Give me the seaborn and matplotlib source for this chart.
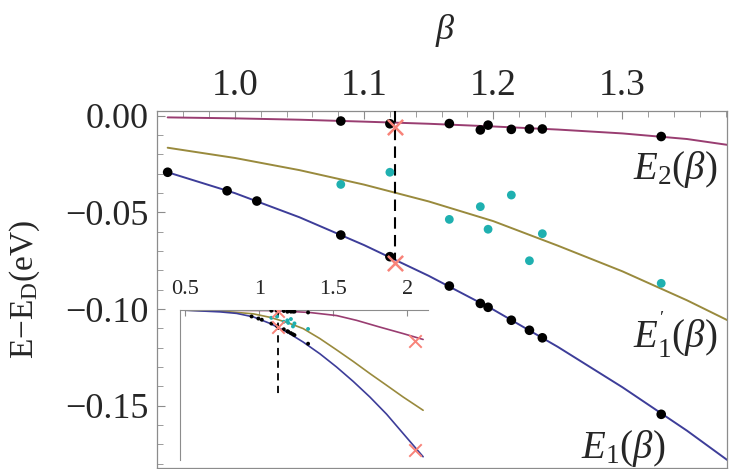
import matplotlib
matplotlib.use("Agg")
import matplotlib.pyplot as plt
import seaborn as sns

# computed points (beta, E - E_D in eV)
beta_e1 = [0.948, 0.994, 1.017, 1.082, 1.120, 1.166, 1.190, 1.196, 1.214, 1.228, 1.238, 1.330]
e1_pts = [-0.0292, -0.0388, -0.0441, -0.0617, -0.0729, -0.0881, -0.0971, -0.0991, -0.1058, -0.1110, -0.1149, -0.1545]

beta_e2 = [1.082, 1.120, 1.166, 1.190, 1.196, 1.214, 1.228, 1.238, 1.330]
e2_pts = [-0.0027, -0.0041, -0.0040, -0.0073, -0.0048, -0.0070, -0.0068, -0.0068, -0.0107]

beta_e1p = [1.082, 1.120, 1.166, 1.190, 1.196, 1.214, 1.228, 1.238, 1.330]
e1p_pts = [-0.0355, -0.0292, -0.0536, -0.0470, -0.0587, -0.0410, -0.0750, -0.0610, -0.0867]

# crosses
beta_cross = [1.124, 1.124]
e_cross = [-0.0056, -0.0763]
beta_cross_far = [2.054, 2.054]
e_cross_far = [-0.140, -0.645]

# fitted curves, main panel
fit_beta = [0.948, 1.0, 1.05, 1.10, 1.15, 1.20, 1.25, 1.30, 1.35, 1.381]
e2_fit = [-0.0008, -0.0013, -0.0020, -0.0030, -0.0041, -0.0055, -0.0071, -0.0091, -0.0120, -0.0150]
e1p_fit = [-0.0165, -0.0218, -0.0281, -0.0356, -0.0443, -0.0545, -0.0672, -0.0805, -0.0955, -0.1057]
e1_fit = [-0.0292, -0.0400, -0.0525, -0.0669, -0.0828, -0.1003, -0.1196, -0.1405, -0.1630, -0.1781]

# fitted curves, inset (wider beta range)
in_e2_beta = [0.486, 0.734, 1.072, 1.185, 1.343, 1.523, 1.658, 1.815, 1.973, 2.108]
in_e2 = [0.0, -0.0005, -0.002, -0.005, -0.011, -0.025, -0.047, -0.078, -0.108, -0.135]
in_e1p_beta = [0.486, 0.734, 0.959, 1.072, 1.185, 1.297, 1.410, 1.523, 1.635, 1.748, 1.861, 1.973, 2.108]
in_e1p = [0.0, -0.004, -0.017, -0.033, -0.056, -0.085, -0.131, -0.183, -0.236, -0.292, -0.346, -0.400, -0.461]
in_e1_beta = [0.486, 0.734, 0.847, 0.959, 1.072, 1.185, 1.297, 1.410, 1.523, 1.635, 1.748, 1.861, 1.973, 2.108]
in_e1 = [0.0, -0.008, -0.015, -0.031, -0.061, -0.100, -0.147, -0.201, -0.262, -0.328, -0.400, -0.479, -0.568, -0.675]

main_xticks = [1.0, 1.1, 1.2, 1.3]
main_yticks = [0.0, -0.05, -0.10, -0.15]
inset_xticks = [0.5, 1.0, 1.5, 2.0]
inset_xlabels = ["0.5", "1", "1.5", "2"]

beta_line = 1.124

c_e1 = "#3d3d99"
c_e2 = "#993d71"
c_e1p = "#998a3d"
c_cyan = "#1fb0b0"
c_cross = "#f88379"
c_frame = "#8c8c8c"

sns.set_style("ticks")
plt.rcParams["font.family"] = ["Liberation Serif", "DejaVu Serif"]
plt.rcParams["mathtext.fontset"] = "custom"
plt.rcParams["mathtext.rm"] = "Liberation Serif"
plt.rcParams["mathtext.it"] = "Liberation Serif:italic"
plt.rcParams["axes.unicode_minus"] = True

fig = plt.figure(figsize=(7.4, 4.69), dpi=100)
ax = fig.add_axes([0.2126, 0.0021, 0.7698, 0.7612])

lw = 1.4
sns.lineplot(x=fit_beta, y=e2_fit, ax=ax, color=c_e2, lw=lw, sort=False, estimator=None)
sns.lineplot(x=fit_beta, y=e1p_fit, ax=ax, color=c_e1p, lw=lw, sort=False, estimator=None)
sns.lineplot(x=fit_beta, y=e1_fit, ax=ax, color=c_e1, lw=lw, sort=False, estimator=None)

ax.plot([beta_line, beta_line], [0.0025, -0.0745], color="black", lw=1.5, ls=(0, (5.5, 3)), zorder=3)

sns.scatterplot(x=beta_e1p, y=e1p_pts, ax=ax, color=c_cyan, s=40, edgecolor="none", zorder=4)
sns.scatterplot(x=beta_e1, y=e1_pts, ax=ax, color="black", s=48, edgecolor="none", zorder=4)
sns.scatterplot(x=beta_e2, y=e2_pts, ax=ax, color="black", s=48, edgecolor="none", zorder=4)
ax.scatter(beta_cross, e_cross, marker="x", s=120, color=c_cross, linewidths=1.8, zorder=5)

ax.set_xlim(0.9403, 1.3809)
ax.set_ylim(-0.1823, 0.0025)
ax.set_xticks(main_xticks)
ax.set_xticklabels([f"{v:.1f}" for v in main_xticks])
ax.set_xticks([0.94 + 0.02 * i for i in range(23) if 0.94 + 0.02 * i <= 1.38], minor=True)
ax.set_yticks(main_yticks)
ax.set_yticklabels(["0.00", "\u22120.05", "\u22120.10", "\u22120.15"])
ax.set_yticks([-0.01 * i for i in range(19)], minor=True)
ax.xaxis.tick_top()
ax.tick_params(axis="both", which="both", direction="in", color=c_frame)
ax.tick_params(axis="x", which="major", length=6, pad=6, top=True, bottom=False, labelsize=27)
ax.tick_params(axis="x", which="minor", length=4, top=True, bottom=False)
ax.tick_params(axis="y", which="major", length=6, pad=6, left=True, right=False, labelsize=26)
ax.tick_params(axis="y", which="minor", length=4, left=True, right=False)
for sp in ax.spines.values():
    sp.set_visible(True)
    sp.set_color(c_frame)
    sp.set_linewidth(0.9)

fs = 28
ax.text(0.909, 0.835, r"$E_2(\beta)$", transform=ax.transAxes, fontsize=fs, ha="center", va="center")
ax.text(0.909, 0.373, r"$E^{'}_1(\beta)$", transform=ax.transAxes, fontsize=fs, ha="center", va="center")
ax.text(0.817, 0.056, r"$E_1(\beta)$", transform=ax.transAxes, fontsize=fs, ha="center", va="center")

fig.text(445 / 740, 1 - 30 / 469, r"$\beta$", fontsize=26, ha="center", va="center")
fig.text(25 / 740, 1 - 289 / 469, "E\u2212E$_\\mathrm{D}$(eV)", fontsize=24, rotation=90,
         ha="center", va="center")

# inset
ins = fig.add_axes([180 / 740, 1 - 460 / 469, 248 / 740, (460 - 309.7) / 469])
ins.set_facecolor("none")
sns.lineplot(x=in_e2_beta, y=in_e2, ax=ins, color=c_e2, lw=1.2, sort=False, estimator=None)
sns.lineplot(x=in_e1p_beta, y=in_e1p, ax=ins, color=c_e1p, lw=1.2, sort=False, estimator=None)
sns.lineplot(x=in_e1_beta, y=in_e1, ax=ins, color=c_e1, lw=1.2, sort=False, estimator=None)
ins.plot([beta_line, beta_line], [0.0, -0.398], color="black", lw=1.3, ls=(0, (4, 3)), zorder=3)
sns.scatterplot(x=beta_e1p, y=e1p_pts, ax=ins, color=c_cyan, s=8, edgecolor="none", zorder=4)
sns.scatterplot(x=beta_e1, y=e1_pts, ax=ins, color="black", s=8, edgecolor="none", zorder=4)
sns.scatterplot(x=beta_e2, y=e2_pts, ax=ins, color="black", s=8, edgecolor="none", zorder=4)
ins.scatter(beta_cross + beta_cross_far, e_cross + e_cross_far, marker="x", s=80,
            color=c_cross, linewidths=1.4, zorder=5)
ins.set_xlim(0.464, 2.141)
ins.set_ylim(-0.69, 0.002)
ins.set_xticks(inset_xticks)
ins.set_xticklabels(inset_xlabels)
ins.set_yticks([])
ins.xaxis.tick_top()
ins.tick_params(axis="x", direction="in", length=4, color=c_frame, labelsize=16, pad=8,
                top=True, bottom=False)
ins.spines["bottom"].set_visible(False)
ins.spines["right"].set_visible(False)
ins.spines["top"].set_visible(True)
ins.spines["left"].set_visible(True)
ins.spines["top"].set_color(c_frame)
ins.spines["left"].set_color(c_frame)

fig.savefig("out.png", dpi=100)
